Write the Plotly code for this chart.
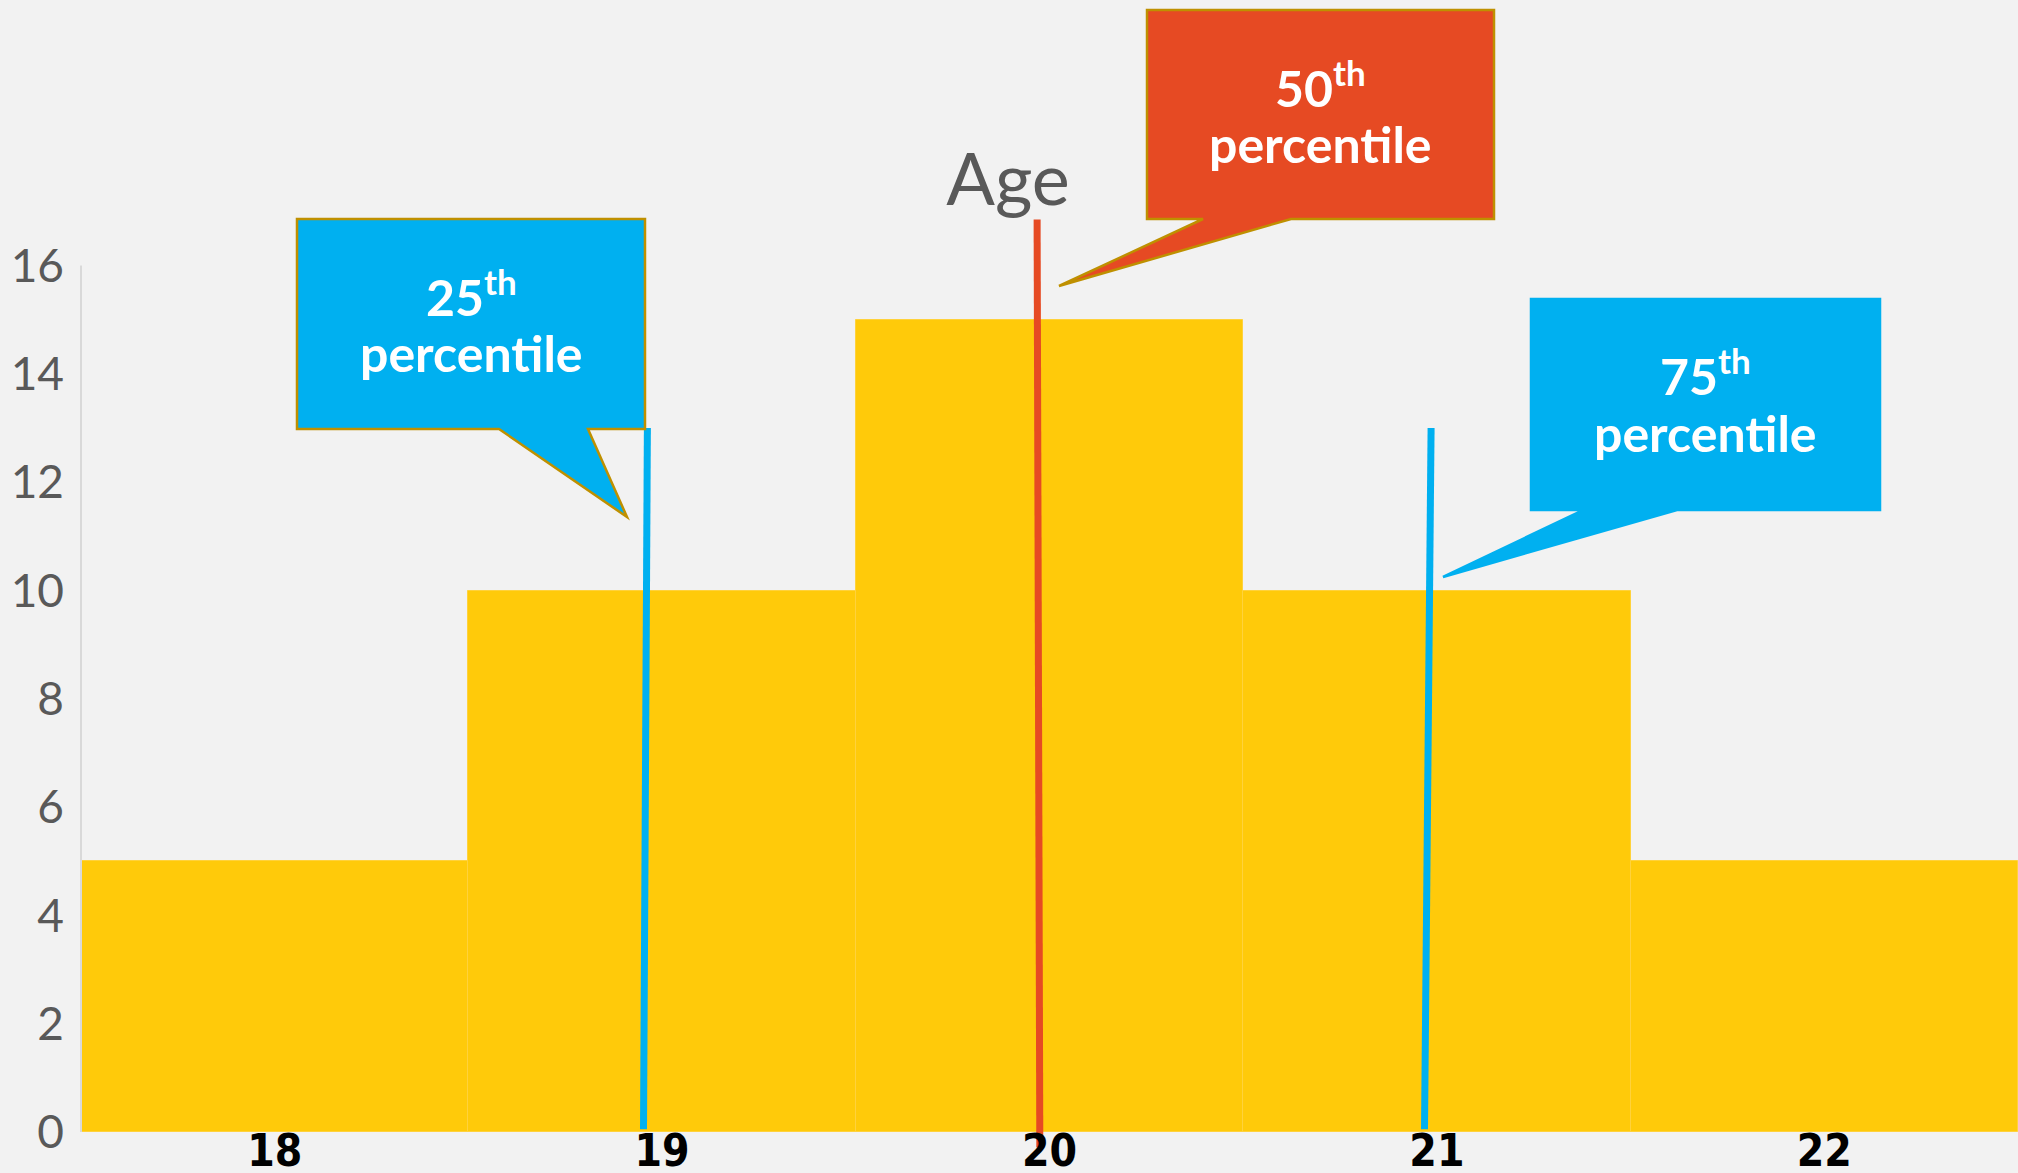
import plotly.graph_objects as go

# Age distribution (count of people per age)
ages = [18, 19, 20, 21, 22]
counts = [5, 10, 15, 10, 5]

# y-axis ticks
y_tick_vals = [0, 2, 4, 6, 8, 10, 12, 14, 16]
y_tick_text = ["0", "2", "4", "6", "8", "10", "12", "14", "16"]

# percentile markers: label, x at base, x at top, y at base, y at top
pct_labels = ["25", "50", "75"]
pct_x_base = [18.952, 19.975, 20.968]
pct_x_top = [18.962, 19.968, 20.985]
pct_y_base = [0.05, -0.28, 0.05]
pct_y_top = [13.0, 16.85, 13.0]
pct_colors = ["#00B0F0", "#E64A23", "#00B0F0"]

W, H = 2018, 1173
BG = "#F2F2F2"
BAR = "#FFCA0A"

# plot-area geometry in page pixels
L, R = 81, 2018
T, B = 0, 1160
Y0_PX = 1132
PX_PER_UNIT = 54.15
y_min = -(B - Y0_PX) / PX_PER_UNIT
y_max = (Y0_PX - T) / PX_PER_UNIT


def px(xp, yp):
    """page pixels -> paper coordinates"""
    return (xp - L) / (R - L), (B - yp) / (B - T)


def bubble_path(x0, y0, x1, y1, b1, b2, tipx, tipy):
    pts = [(x0, y0), (x1, y0), (x1, y1), (b2, y1), (tipx, tipy), (b1, y1), (x0, y1)]
    conv = [px(a, b) for a, b in pts]
    return "M " + " L ".join(f"{a:.5f},{b:.5f}" for a, b in conv) + " Z"


fig = go.Figure()

fig.add_trace(go.Bar(
    x=ages, y=counts, width=1.0,
    marker=dict(color=BAR, line=dict(color="#FFD23C", width=1)),
    hoverinfo="x+y", showlegend=False,
))

for i in range(len(pct_labels)):
    fig.add_trace(go.Scatter(
        x=[pct_x_base[i], pct_x_top[i]], y=[pct_y_base[i], pct_y_top[i]],
        mode="lines", line=dict(color=pct_colors[i], width=7),
        showlegend=False, hoverinfo="skip",
    ))

# callout bubbles: box (x0, y0, x1, y1), tail base b1..b2, tail tip
callouts = [
    dict(box=(297, 219, 645, 429), tail=(499, 588, 627, 517), fill="#00B0F0",
         border="#BF9000", num=(471, 293), word=(471, 353)),
    dict(box=(1147, 10, 1494, 219), tail=(1203, 1291, 1059, 286), fill="#E64A23",
         border="#BF9000", num=(1320, 84), word=(1320, 144)),
    dict(box=(1531, 299, 1880, 510), tail=(1583, 1677, 1443, 577), fill="#00B0F0",
         border="#00B0F0", num=(1705, 373), word=(1705, 433)),
]

shapes = [
    dict(type="line", xref="paper", yref="y", x0=0, x1=0, y0=0, y1=16,
         line=dict(color="#D9D9D9", width=2), layer="above"),
]
annotations = []
for lab, c in zip(pct_labels, callouts):
    x0, y0, x1, y1 = c["box"]
    b1, b2, tx, ty = c["tail"]
    shapes.append(dict(
        type="path", xref="paper", yref="paper",
        path=bubble_path(x0, y0, x1, y1, b1, b2, tx, ty),
        fillcolor=c["fill"], line=dict(color=c["border"], width=2.5),
        layer="above",
    ))
    nx, ny = px(*c["num"])
    wx, wy = px(*c["word"])
    annotations.append(dict(
        xref="paper", yref="paper", x=nx, y=ny, xanchor="center", yanchor="middle",
        text=f"<b>{lab}<sup>th</sup></b>", showarrow=False,
        font=dict(family="Lato, sans-serif", size=50, color="white"),
    ))
    annotations.append(dict(
        xref="paper", yref="paper", x=wx, y=wy, xanchor="center", yanchor="middle",
        text="<b>percentile</b>", showarrow=False,
        font=dict(family="Lato, sans-serif", size=50, color="white"),
    ))

fig.update_layout(
    width=W, height=H,
    margin=dict(l=L, r=W - R, t=T, b=H - B, pad=0),
    paper_bgcolor=BG, plot_bgcolor=BG,
    bargap=0,
    showlegend=False,
    title=dict(text="Age", x=1008 / W, xanchor="center", y=1 - 180 / H, yanchor="middle",
               font=dict(family="Lato, sans-serif", size=72, color="#595959")),
    shapes=shapes,
    annotations=annotations,
    xaxis=dict(
        range=[17.5, 22.5], tickvals=ages, ticktext=[str(a) for a in ages],
        anchor="free", position=(B - Y0_PX) / (B - T),
        showline=False, showgrid=False, zeroline=False, ticks="",
        tickfont=dict(family="Liberation Sans Narrow, DejaVu Sans Condensed, sans-serif",
                      size=44, color="#000000", weight="bold"),
        ticklabelstandoff=-11, automargin=False, fixedrange=True,
    ),
    yaxis=dict(
        range=[y_min, y_max], tickvals=y_tick_vals, ticktext=y_tick_text,
        showline=False, showgrid=False, zeroline=False, ticks="",
        tickfont=dict(family="Lato, sans-serif", size=46, color="#595959"),
        ticklabelstandoff=16, automargin=False, fixedrange=True,
    ),
)

fig.write_html("out.html")
